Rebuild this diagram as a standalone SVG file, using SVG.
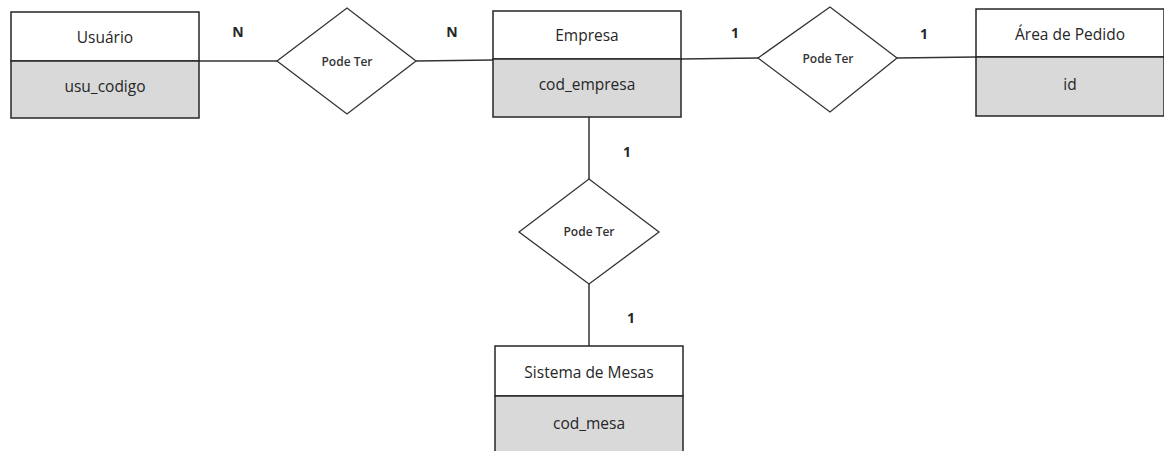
<svg xmlns="http://www.w3.org/2000/svg" width="1164" height="451" viewBox="0 0 1164 451">
<style>
.bg{fill:#ffffff}
.hdr{fill:#ffffff;stroke:#262626;stroke-width:1.5}
.att{fill:#d9d9d9;stroke:#262626;stroke-width:1.5}
.rel{fill:#ffffff;stroke:#333333;stroke-width:1.3}
.ln{stroke:#333333;stroke-width:1.5;fill:none}
.t{font-family:"Open Sans","Liberation Sans",sans-serif;font-size:15.5px;fill:#262626;text-anchor:middle}
.r{font-family:"Open Sans","Liberation Sans",sans-serif;font-size:12px;font-weight:600;fill:#333333;text-anchor:middle}
.c{font-family:"Open Sans","Liberation Sans",sans-serif;font-size:14px;font-weight:bold;fill:#262626;text-anchor:middle}
</style>
<rect class="bg" x="0" y="0" width="1164" height="451"/>
<g id="connectors">
<line class="ln" x1="199" y1="61" x2="277" y2="61"/>
<line class="ln" x1="416" y1="61" x2="493" y2="60"/>
<line class="ln" x1="681" y1="59" x2="758" y2="58"/>
<line class="ln" x1="897" y1="58" x2="976" y2="57"/>
<line class="ln" x1="589" y1="117" x2="589" y2="179"/>
<line class="ln" x1="589" y1="284" x2="589" y2="346"/>
<text class="c" x="238" y="37">N</text>
<text class="c" x="452" y="37">N</text>
<text class="c" x="735" y="38">1</text>
<text class="c" x="924" y="39">1</text>
<text class="c" x="627" y="157">1</text>
<text class="c" x="631" y="323">1</text>
</g>
<g id="usuario">
<rect class="hdr" x="11" y="12" width="188" height="49"/>
<rect class="att" x="11" y="61" width="188" height="57"/>
<text class="t" x="105" y="43">Usuário</text>
<text class="t" x="105" y="92">usu_codigo</text>
</g>
<g id="rel1">
<polygon class="rel" points="277,61 347,8 416,61 347,114"/>
<text class="r" x="347" y="66">Pode Ter</text>
</g>
<g id="empresa">
<rect class="hdr" x="493" y="11" width="188" height="48"/>
<rect class="att" x="493" y="59" width="188" height="58"/>
<text class="t" x="587" y="41">Empresa</text>
<text class="t" x="587" y="90">cod_empresa</text>
</g>
<g id="rel2">
<polygon class="rel" points="758,58 830,7 897,58 830,112"/>
<text class="r" x="828" y="63">Pode Ter</text>
</g>
<g id="area">
<rect class="hdr" x="976" y="9" width="188" height="48"/>
<rect class="att" x="976" y="57" width="188" height="59"/>
<text class="t" x="1070" y="40">Área de Pedido</text>
<text class="t" x="1070" y="90">id</text>
</g>
<g id="rel3">
<polygon class="rel" points="519,232 589,179 659,232 589,284"/>
<text class="r" x="589" y="236">Pode Ter</text>
</g>
<g id="sistema">
<rect class="hdr" x="495" y="346" width="188" height="50"/>
<rect class="att" x="495" y="396" width="188" height="60"/>
<text class="t" x="589" y="378">Sistema de Mesas</text>
<text class="t" x="589" y="429">cod_mesa</text>
</g>
</svg>
